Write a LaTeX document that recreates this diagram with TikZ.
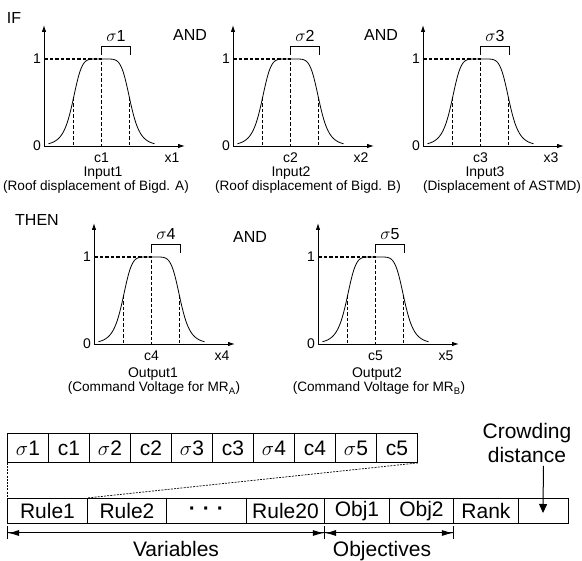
\documentclass[tikz,border=0pt]{standalone}
\usepackage{fontspec}
\setmainfont{Liberation Sans}
\usetikzlibrary{arrows.meta}
\begin{document}
\begin{tikzpicture}[x=1pt,y=-1pt,
  axis/.style={line width=0.9pt,-{Latex[length=7pt,width=4.5pt]}},
  curve/.style={line width=0.8pt},
  dsh/.style={line width=1.3pt,dash pattern=on 3.5pt off 2pt},
  lab/.style={inner sep=0pt,font=\fontsize{14}{16}\selectfont},
  sml/.style={inner sep=0pt,font=\fontsize{13.6}{16}\selectfont},
  big/.style={inner sep=0pt,font=\fontsize{16}{18}\selectfont},
  cell/.style={draw,line width=0.9pt,anchor=north west,inner sep=0pt,font=\fontsize{21}{24}\selectfont},
  link/.style={line width=0.7pt,dash pattern=on 2pt off 1.2pt},
  dimarr/.style={line width=1pt,arrows={Bar[width=13pt]Latex[length=11pt,width=6pt]}-{Latex[length=11pt,width=6pt]Bar[width=13pt]}}]
\useasboundingbox (0,0) rectangle (582,561);

% membership function charts
\foreach \ox/\oy/\i in {44/146/1,233/146/2,423/146/3,94/344/4,318/344/5}{
  \begin{scope}[shift={(\ox,\oy)}]
    \coordinate (o\i) at (0,0);
    \coordinate (yt\i) at (0,-121);
    \coordinate (xt\i) at (141,0);
    \draw[axis] (o\i) -- (yt\i);
    \draw[axis] (o\i) -- (xt\i);
    \draw[curve] plot[domain=-53:53,samples=99,smooth]
      ({57.5+\x},{-87/(1+(\x/29)*(\x/29)*(\x/29)*(\x/29)*(\x/29)*(\x/29))});
    \draw[dsh] (0,-87) -- (57.5,-87) -- (57.5,0);
    \draw[dsh] (29.5,-48) -- (29.5,0);
    \draw[dsh] (85.5,-48) -- (85.5,0);
    \draw[line width=0.8pt] (57.5,-91) -- (57.5,-100) -- (86.5,-100) -- (86.5,-91);
    \node[big] (s\i) at (72,-110) {$\sigma$\i};
    \node[lab,anchor=east] (one\i) at (-3,-87) {1};
    \node[lab,anchor=east] (zero\i) at (-3,0) {0};
    \node[lab] (c\i) at (57.5,12) {c\i};
    \node[lab] (x\i) at (128,12) {x\i};
  \end{scope}
}

\node[big] (if) at (14,18) {IF};
\node[big] (and1) at (190,35) {AND};
\node[big] (and2) at (381,35) {AND};
\node[big] (then) at (37,220) {THEN};
\node[big] (and3) at (250,237) {AND};

\node[lab,anchor=base] (in1) at (103,177) {Input1};
\node[sml,anchor=base] (pin1) at (96,190.5) {(Roof displacement of Bigd. A)};
\node[lab,anchor=base] (in2) at (291,177) {Input2};
\node[sml,anchor=base] (pin2) at (308,190.5) {(Roof displacement of Bigd. B)};
\node[lab,anchor=base] (in3) at (485,177) {Input3};
\node[sml,anchor=base] (pin3) at (502,190.5) {(Displacement of ASTMD)};
\node[lab,anchor=base] (out1) at (153,378) {Output1};
\node[sml,anchor=base] (pout1) at (154,392) {(Command Voltage for MR\textsubscript{A})};
\node[lab,anchor=base] (out2) at (377,378) {Output2};
\node[sml,anchor=base] (pout2) at (379,392) {(Command Voltage for MR\textsubscript{B})};

% chromosome: rule genes
\foreach \t [count=\k from 0] in {{$\sigma$1},c1,{$\sigma$2},c2,{$\sigma$3},c3,{$\sigma$4},c4,{$\sigma$5},c5}{
  \node[cell,minimum width=41pt,minimum height=29pt] (g\k) at ({7+41*\k},433) {\t};
}

% chromosome: full
\foreach \xl/\w/\t/\n in {7/80/Rule1/1,87/79/Rule2/2,166/80/{\textbf{·\,\,·\,\,·}}/3,246/78/Rule20/4,324/65/Obj1/5,389/64/Obj2/6,453/65/Rank/7}{
  \node[cell,minimum width=\w pt,minimum height=25pt] (r\n) at (\xl,498) {\t};
}
\node[cell,minimum width=50pt,minimum height=25pt] (r8) at (518,498) {};

\draw[link] (g0.south west) -- (r1.north west);
\draw[link] (g9.south east) -- (r2.north west);

\coordinate (ylev) at (0,533);
\draw[dimarr] (r1.south west |- ylev) -- (r4.south east |- ylev);
\draw[dimarr] (r5.south west |- ylev) -- (r6.south east |- ylev);

\node[inner sep=0pt,anchor=base,font=\fontsize{21}{24}\selectfont] (var) at (176,557) {Variables};
\node[inner sep=0pt,anchor=base,font=\fontsize{21}{24}\selectfont] (obj) at (382,557) {Objectives};
\node[inner sep=0pt,align=center,font=\fontsize{21}{24}\selectfont] (cd) at (527,443) {Crowding\\distance};
\coordinate (cdtip) at (543,513);
\draw[line width=1pt,-{Triangle[length=9pt,width=8pt]}] (r8.center |- cd.south) ++(0,3) -- (cdtip);
\end{tikzpicture}
\end{document}
